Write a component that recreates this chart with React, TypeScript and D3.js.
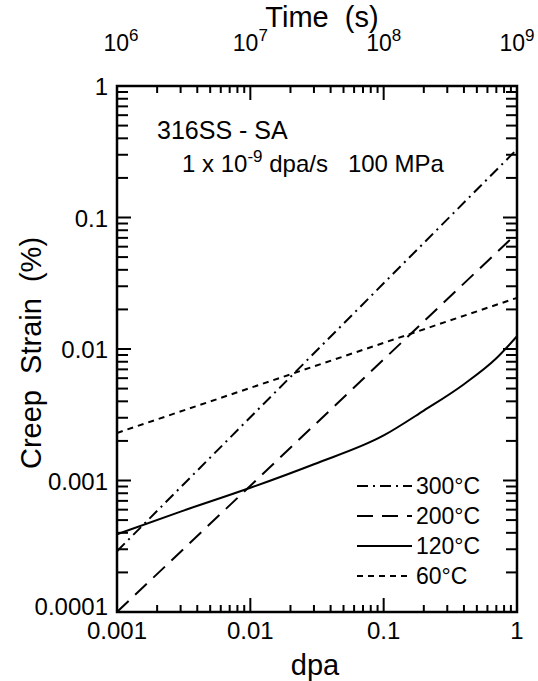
import React from "react";
import * as d3 from "d3";

// ---- data ----
const dpaDomain = [0.001, 1];
const strainDomain = [0.0001, 1];
const timeDomain = [1e6, 1e9];

const xTickLabels = ["0.001", "0.01", "0.1", "1"];
const xTickValues = [0.001, 0.01, 0.1, 1];
const yTickLabels = ["0.0001", "0.001", "0.01", "0.1", "1"];
const yTickValues = [0.0001, 0.001, 0.01, 0.1, 1];
const timeTickValues = [1e6, 1e7, 1e8, 1e9];
const timeTickExps = ["6", "7", "8", "9"];

const dpa300 = [0.001, 1];
const strain300 = [0.00029, 0.33];
const dpa200 = [0.001, 1];
const strain200 = [0.0001, 0.076];
const dpa120 = [0.001, 0.003, 0.01, 0.03, 0.1, 0.2, 0.4, 0.7, 1];
const strain120 = [0.00039, 0.00058, 0.00088, 0.00133, 0.0022, 0.0034, 0.0054, 0.0085, 0.0125];
const dpa60 = [0.001, 1];
const strain60 = [0.0023, 0.0245];

const seriesNames = ["300°C", "200°C", "120°C", "60°C"];
const seriesDash = ["11,5,2,5", "16,9", "", "6,5"];

const W = 538, H = 681;
const L = 117, R = 517, T = 86, B = 612;
const FONT = "'Liberation Sans', Arial, Helvetica, sans-serif";

export default function App() {
  const x = d3.scaleLog().domain(dpaDomain).range([L, R]);
  const xt = d3.scaleLog().domain(timeDomain).range([L, R]);
  const y = d3.scaleLog().domain(strainDomain).range([B, T]);

  const series = [
    { xs: dpa300, ys: strain300 },
    { xs: dpa200, ys: strain200 },
    { xs: dpa120, ys: strain120 },
    { xs: dpa60, ys: strain60 },
  ];
  const line = d3
    .line<[number, number]>()
    .x((d) => x(d[0]))
    .y((d) => y(d[1]))
    .curve(d3.curveMonotoneX);

  const xMinor = x.ticks();
  const tMinor = xt.ticks();
  const yMinor = y.ticks();
  const isMajor = (v: number) => Math.abs(Math.log10(v) - Math.round(Math.log10(v))) < 1e-9;

  const legendY = [486, 516, 546, 576];

  return (
    <svg
      width={W}
      height={H}
      style={{ position: "absolute", left: 0, top: 0, background: "#fff" }}
      fontFamily={FONT}
    >
      <rect x={0} y={0} width={W} height={H} fill="#fff" />
      <defs>
        <clipPath id="plotclip">
          <rect x={L} y={T} width={R - L} height={B - T} />
        </clipPath>
      </defs>

      {/* curves */}
      <g clipPath="url(#plotclip)" fill="none" stroke="#000" strokeWidth={2}>
        {series.map((s, i) => (
          <path
            key={i}
            d={line(s.xs.map((v, j) => [v, s.ys[j]] as [number, number])) || ""}
            strokeDasharray={seriesDash[i] || undefined}
          />
        ))}
      </g>

      {/* ticks */}
      <g stroke="#000" strokeWidth={2}>
        {xMinor.map((v, i) => {
          const len = isMajor(v) ? 14 : 7;
          return <line key={"b" + i} x1={x(v)} x2={x(v)} y1={B} y2={B - len} />;
        })}
        {tMinor.map((v, i) => {
          const len = isMajor(v) ? 14 : 7;
          return <line key={"t" + i} x1={xt(v)} x2={xt(v)} y1={T} y2={T + len} />;
        })}
        {yMinor.map((v, i) => {
          const len = isMajor(v) ? 14 : 11;
          return (
            <g key={"y" + i}>
              <line x1={L} x2={L + len} y1={y(v)} y2={y(v)} />
              <line x1={R} x2={R - len} y1={y(v)} y2={y(v)} />
            </g>
          );
        })}
      </g>

      {/* frame */}
      <rect x={L} y={T} width={R - L} height={B - T} fill="none" stroke="#000" strokeWidth={2.5} />

      {/* bottom tick labels */}
      <g fontSize={24} textAnchor="middle" fill="#000">
        {xTickValues.map((v, i) => (
          <text key={i} x={x(v)} y={639}>
            {xTickLabels[i]}
          </text>
        ))}
      </g>
      {/* left tick labels */}
      <g fontSize={24} textAnchor="end" fill="#000">
        {yTickValues.map((v, i) => (
          <text key={i} x={108} y={Math.min(y(v) + 9, B + 3)}>
            {yTickLabels[i]}
          </text>
        ))}
      </g>
      {/* top tick labels */}
      <g fontSize={23} textAnchor="middle" fill="#000">
        {timeTickValues.map((v, i) => (
          <text key={i} x={xt(v) + (i === 0 ? 4 : 0)} y={51}>
            10
            <tspan fontSize={17} dy={-10}>
              {timeTickExps[i]}
            </tspan>
          </text>
        ))}
      </g>

      {/* axis titles */}
      <text x={322} y={27} fontSize={29} textAnchor="middle" style={{ whiteSpace: "pre" }}>
        {"Time  (s)"}
      </text>
      <text x={315} y={675} fontSize={29} textAnchor="middle">
        dpa
      </text>
      <text
        transform={`translate(41, ${(T + B) / 2 + 4}) rotate(-90)`}
        fontSize={29}
        textAnchor="middle"
        style={{ whiteSpace: "pre" }}
      >
        {"Creep  Strain  (%)"}
      </text>

      {/* annotations */}
      <text x={157} y={139} fontSize={25} style={{ whiteSpace: "pre" }}>
        {"316SS - SA"}
      </text>
      <text x={182} y={172} fontSize={24} style={{ whiteSpace: "pre" }}>
        {"1 x 10"}
        <tspan fontSize={17} dy={-10}>
          {"-9"}
        </tspan>
        <tspan dy={10}>{" dpa/s   100 MPa"}</tspan>
      </text>

      {/* legend */}
      <g>
        {seriesNames.map((n, i) => (
          <g key={i}>
            <line
              x1={357}
              x2={412}
              y1={legendY[i]}
              y2={legendY[i]}
              stroke="#000"
              strokeWidth={2}
              strokeDasharray={seriesDash[i] || undefined}
            />
            <text x={416} y={legendY[i] + 8} fontSize={23}>
              {n}
            </text>
          </g>
        ))}
      </g>
    </svg>
  );
}
